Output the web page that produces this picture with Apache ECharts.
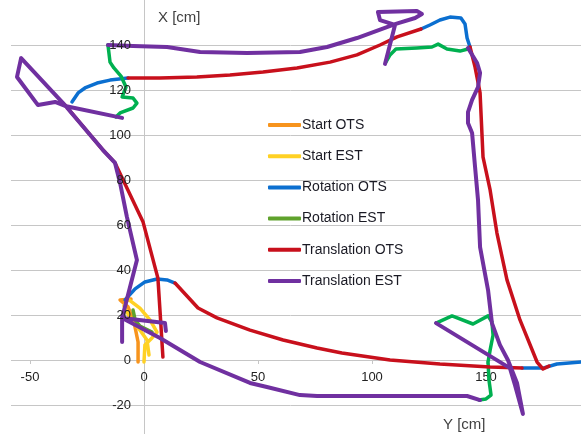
<!DOCTYPE html>
<html>
<head>
<meta charset="utf-8">
<script src="https://cdn.jsdelivr.net/npm/echarts@6/dist/echarts.min.js"></script>
<style>
  html, body { margin: 0; padding: 0; background: #ffffff; }
  #chart { width: 581px; height: 434px; }
</style>
</head>
<body>
<div id="chart"></div>
<script>
// Tracked robot paths as [Y cm, X cm] pairs, one array per drawn stretch.
const startOts = [[-2.6,-0.9],[-2.6,8.0],[-4.4,16.9],[-7.0,23.6],[-10.5,26.7],[-5.7,27.1]];
const startEst = [[0,-0.9],[0.4,6.7],[3.5,9.8],[5.7,12.4],[2.6,17.8],[-1.8,23.1],[-7.0,27.1],[-8.8,24.0],[-6.1,18.7],[-1.8,13.3],[1.3,8.9],[2.2,2.2]];

const rotationOtsStart = [[-8.3,26.7],[-3.9,31.6],[0.4,34.7],[5.7,36.0],[10.1,35.6],[13.6,34.2]];
const rotationOtsCornerB = [[165.8,-3.6],[175.0,-3.6],[181.1,-1.8],[191.7,-0.9],[198.0,-0.6]];
const rotationOtsCornerC = [[143.0,139.1],[141.7,143.1],[140.8,149.3],[139.0,152.0],[134.2,152.4],[129.8,151.1],[125.4,148.9],[121.5,147.1]];
const rotationOtsCornerD = [[-7.0,125.3],[-14.9,124.4],[-20.6,123.1],[-25.9,120.9],[-28.9,118.7],[-31.6,114.7]];

const rotationEstStart = [[-4.8,22.2],[-3.9,17.8],[-1.8,15.1],[3.5,12.4]];
const rotationEstCornerB = [[128.1,16.4],[135.1,19.6],[144.3,16.0],[150.9,19.6],[152.6,16.9],[153.1,11.1],[151.8,4.4],[150.9,-0.9],[151.3,-8.9],[152.2,-15.6],[150.0,-17.3],[146.9,-17.8]];
const rotationEstCornerC = [[106.1,132.4],[107.9,135.6],[110.5,138.2],[119.7,138.7],[126.3,139.1],[129.0,140.4],[132.9,138.2],[138.6,137.3],[142.1,138.2]];
const rotationEstCornerD = [[-15.8,140.0],[-14.9,132.4],[-13.2,129.8],[-10.1,126.2],[-7.9,121.3],[-9.6,116.9],[-4.8,116.4],[-3.1,114.2],[-4.8,112.0],[-10.5,109.8],[-12.3,108.0]];

const translationOtsSide1 = [[13.6,34.2],[23.7,23.1],[32.0,18.7],[46.5,13.3],[61.0,8.9],[75.9,5.3],[86.8,3.1],[107.9,0],[129.8,-1.8],[151.8,-3.1],[165.8,-3.6]];
const translationOtsSide2 = [[177.6,-2.7],[175.0,-4.0],[172.4,-0.9],[164.9,17.8],[159.2,35.6],[154.8,56.4],[151.8,75.6],[148.7,90.2],[147.4,118.7],[145.2,130.2],[143.0,139.1]];
const translationOtsSide3 = [[121.5,147.1],[111.0,143.6],[103.5,140.0],[93.4,135.6],[81.6,132.4],[67.1,129.8],[52.2,128.0],[37.7,126.7],[23.2,125.8],[7.0,125.3],[-7.0,125.3]];
const translationOtsSide4 = [[-34.6,113.3],[-18.0,93.3],[-12.7,87.6],[-0.4,61.3],[6.1,36.4],[7.0,22.2],[8.3,1.3]];

const translationEstSide1 = [[9.6,12.9],[9.2,16.4],[-9.6,18.7],[7.0,9.8],[24.6,-0.9],[46.5,-10.2],[53.9,-12.0],[68.4,-15.6],[75.9,-16.0],[90.4,-16.0],[107.9,-16.0],[141.7,-16.0],[147.4,-17.8]];
const translationEstSide2 = [[142.1,138.7],[146.1,132.0],[147.4,127.6],[146.5,121.3],[143.9,115.6],[142.1,110.2],[142.1,105.3],[143.9,100.9],[145.2,85.8],[146.5,71.1],[147.4,50.2],[150.9,31.1],[152.6,16.4],[156.1,6.7],[159.6,0],[163.6,-10.2],[166.2,-24.0],[162.7,-11.1],[160.5,-3.6],[128.1,16.4]];
const translationEstSide3 = [[-15.8,140.0],[-4.8,139.6],[10.1,139.1],[24.6,136.9],[45.2,136.4],[68.4,136.9],[80.3,139.1],[93.4,143.1],[110.1,149.3],[118.9,152.0],[121.9,153.8],[119.7,155.1],[102.6,154.7],[103.5,151.1],[110.1,148.9],[105.7,131.6]];
const translationEstSide4 = [[-9.6,8.0],[-9.6,18.7],[-3.1,44.4],[-7.5,63.6],[-10.5,78.7],[-12.7,87.6],[-18.0,93.3],[-35.5,114.2],[-53.9,134.2],[-55.7,125.8],[-46.5,113.3],[-39.0,114.7],[-34.6,112.9],[-9.6,107.6]];

const seriesNames = ['Start OTS', 'Start EST', 'Rotation OTS', 'Rotation EST', 'Translation OTS', 'Translation EST'];
const xTickValues = [-50, 0, 50, 100, 150];
const yTickValues = [-20, 0, 20, 40, 60, 80, 100, 120, 140];

const palette = {
  'Start OTS': '#F7941D',
  'Start EST': '#FFD124',
  'Rotation OTS': '#0B6FD0',
  'Rotation EST': '#5FA22C',
  'Translation OTS': '#C8101C',
  'Translation EST': '#7030A0'
};
const rotationEstTrack = '#00B050';

// Drawing order: later stretches sit on top.
const stretches = [
  ['Start OTS', startOts, null],
  ['Start EST', startEst, null],
  ['Rotation OTS', rotationOtsStart, null],
  ['Rotation OTS', rotationOtsCornerB, null],
  ['Rotation OTS', rotationOtsCornerC, null],
  ['Rotation OTS', rotationOtsCornerD, null],
  ['Rotation EST', rotationEstStart, null],
  ['Rotation EST', rotationEstCornerB, rotationEstTrack],
  ['Rotation EST', rotationEstCornerC, rotationEstTrack],
  ['Rotation EST', rotationEstCornerD, rotationEstTrack],
  ['Translation OTS', translationOtsSide1, null],
  ['Translation OTS', translationOtsSide2, null],
  ['Translation OTS', translationOtsSide3, null],
  ['Translation OTS', translationOtsSide4, null],
  ['Translation EST', translationEstSide1, null],
  ['Translation EST', translationEstSide2, null],
  ['Translation EST', translationEstSide3, null],
  ['Translation EST', translationEstSide4, null]
];

const fontFamily = '"Liberation Sans", Arial, sans-serif';
const gridGray = '#C6C6C6';

// Plot box: x from -100 to 200, y from -40 to 160; the box runs past the canvas
// and the axes are shifted inward so they cross at the origin.
const gridLeft = -84, gridTop = 0, gridWidth = 684, gridHeight = 450;

const yLabelStyle = {
  margin: 13, fontSize: 13, color: '#222222', fontFamily: fontFamily,
  formatter: v => yTickValues.includes(v) ? String(v) : ''
};

const chart = echarts.init(document.getElementById('chart'), null, { renderer: 'canvas' });

chart.setOption({
  animation: false,
  backgroundColor: '#ffffff',
  grid: {
    left: gridLeft, top: gridTop, width: gridWidth, height: gridHeight,
    containLabel: false, outerBoundsMode: 'none'
  },
  xAxis: {
    type: 'value', min: -100, max: 200, interval: 50, position: 'bottom',
    offset: -90,
    axisLine: { onZero: false, lineStyle: { color: gridGray, width: 1 } },
    axisTick: { show: true, length: 4, lineStyle: { color: gridGray } },
    splitLine: { show: false },
    axisLabel: {
      margin: 11, fontSize: 13, color: '#222222', fontFamily: fontFamily,
      formatter: v => xTickValues.includes(v) ? String(v) : ''
    }
  },
  yAxis: [
    {
      // axis line and gridlines, beneath the tracks
      type: 'value', min: -40, max: 160, interval: 20, position: 'left',
      offset: -228,
      axisLine: { onZero: false, lineStyle: { color: gridGray, width: 1 } },
      axisTick: { show: false },
      splitLine: { show: true, showMinLine: false, showMaxLine: false, lineStyle: { color: gridGray, width: 1 } },
      axisLabel: { show: false }
    },
    {
      // tick labels, drawn over the tracks
      type: 'value', min: -40, max: 160, interval: 20, position: 'left',
      offset: -228, z: 10,
      axisLine: { show: false },
      axisTick: { show: false },
      splitLine: { show: false },
      axisLabel: yLabelStyle
    }
  ],
  legend: {
    orient: 'vertical', left: 268, top: 118, padding: 0,
    itemWidth: 33, itemHeight: 4, itemGap: 17.2, icon: 'roundRect',
    textStyle: { fontSize: 14, color: '#1a1a24', fontFamily: fontFamily, padding: [0, 0, 0, -4] },
    data: seriesNames
  },
  graphic: [
    { type: 'rect', left: 0, top: 0, z: 1, shape: { width: 11, height: 434 }, style: { fill: '#ffffff' } },
    { type: 'text', left: 158, top: 10, style: { text: 'X [cm]', fill: '#404040', font: '15px ' + fontFamily } },
    { type: 'text', left: 443, top: 417, style: { text: 'Y [cm]', fill: '#404040', font: '15px ' + fontFamily } }
  ],
  series: stretches.map(([name, points, track]) => {
    const c = track || palette[name];
    return {
      name: name,
      type: 'line',
      yAxisIndex: 0,
      data: points,
      showSymbol: false,
      symbol: 'none',
      color: palette[name],
      itemStyle: { color: palette[name] },
      lineStyle: { color: c, width: name === 'Translation EST' ? 4 : 3.5, cap: 'round', join: 'round' },
      emphasis: { disabled: true },
      clip: true
    };
  })
});
</script>
</body>
</html>
